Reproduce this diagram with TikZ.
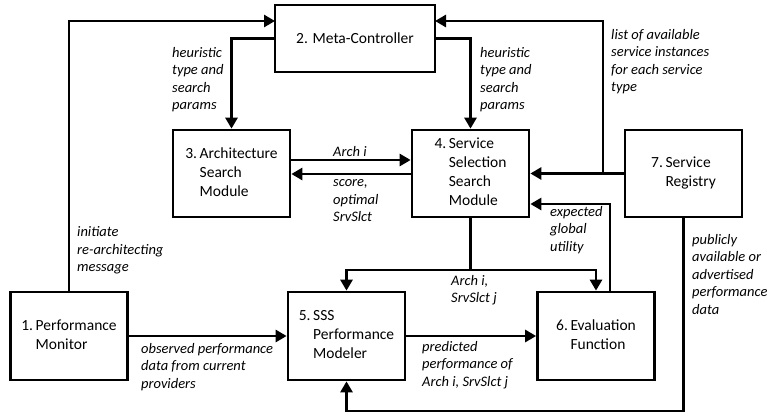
\documentclass[tikz,border=0pt]{standalone}
\usepackage{fontspec}
\setmainfont{Carlito}
\usetikzlibrary{arrows.meta,calc}
\tikzset{
  box/.style={draw, line width=2.7pt, fill=white, inner sep=0pt,
    minimum width=117pt, minimum height=87pt,
    font=\fontsize{15.5}{19}\selectfont, align=left},
  arr/.style={line width=2.7pt, -{Triangle[length=11pt,width=12pt]}},
  ln/.style={line width=2.7pt},
  lbl/.style={font=\fontsize{14.5}{17.5}\selectfont\itshape, align=left,
    anchor=west, inner sep=0pt}
}
\newcommand{\hang}[2]{\begin{tabular}{@{}l@{\,}l@{}}#1 & #2\end{tabular}}
\begin{document}
\begin{tikzpicture}[x=1pt,y=-1pt]
\useasboundingbox (0,0) rectangle (767,418);

% components
\node[box, minimum width=160pt, minimum height=67pt] (mc) at (355,38.5) {2. Meta-Controller};
\node[box] (b3) at (231.5,173.5) {\hang{3.}{Architecture\\ & Search\\ & Module}};
\node[box] (b4) at (470.5,173.5) {\hang{4.}{Service\\ & Selection\\ & Search\\ & Module}};
\node[box] (b7) at (683.5,173.5) {\hang{7.}{Service\\ & Registry}};
\node[box, minimum height=88pt] (b1) at (69,336) {\hang{1.}{Performance\\ & Monitor}};
\node[box, minimum height=88pt] (b5) at (346.5,336) {\hang{5.}{SSS\\ & Performance\\ & Modeler}};
\node[box, minimum height=88pt] (b6) at (596,336) {\hang{6.}{Evaluation\\ & Function}};

% helper points on the routed connectors
\coordinate (j7) at (603,173.5);
\coordinate (j4) at (470.5,270);
\coordinate (e6) at (610,292);

% connectors
\draw[arr] (b1.north) |- (275,21);
\draw[arr] (mc.west) -| (b3.north);
\draw[arr] (mc.east) -| (b4.north);
\draw[arr] (b7.west) -- (b4.east);
\draw[arr] (j7) |- (435,21);
\draw[arr] (b3.east |- 0,160) -- (b4.west |- 0,160);
\draw[arr] (b4.west |- 0,174) -- (b3.east |- 0,174);
\draw[ln] (b4.south) -- (j4);
\draw[arr] (j4) -| (b5.north);
\draw[arr] (j4) -| (b6.north);
\draw[arr] (e6) |- (b4.east |- 0,204);
\draw[arr] (b7.south) |- (b5.south |- 0,411) -- (b5.south);
\draw[arr] (b1.east) -- (b5.west);
\draw[arr] (b5.east) -- (b6.west);

% connector labels
\node[lbl] (l1) at (77,250.5) {initiate\\re-architecting\\message};
\node[lbl] (l2) at (172,79.5) {heuristic\\type and\\search\\params};
\node[lbl] (l3) at (480,79.5) {heuristic\\type and\\search\\params};
\node[lbl] (l4) at (611,61.5) {list of available\\service instances\\for each service\\type};
\node[lbl] (l5) at (333,152) {Arch i};
\node[lbl] (l6) at (333,201) {score,\\optimal\\SrvSlct};
\node[lbl] (l7) at (550,230) {expected\\global\\utility};
\node[lbl] (l8) at (451,290) {Arch i,\\SrvSlct j};
\node[lbl] (l9) at (692,274.5) {publicly\\available or\\advertised\\performance\\data};
\node[lbl] (l10) at (141,367) {observed performance\\data from current\\providers};
\node[lbl] (l11) at (422,365) {predicted\\performance of\\Arch i, SrvSlct j};
\end{tikzpicture}
\end{document}
